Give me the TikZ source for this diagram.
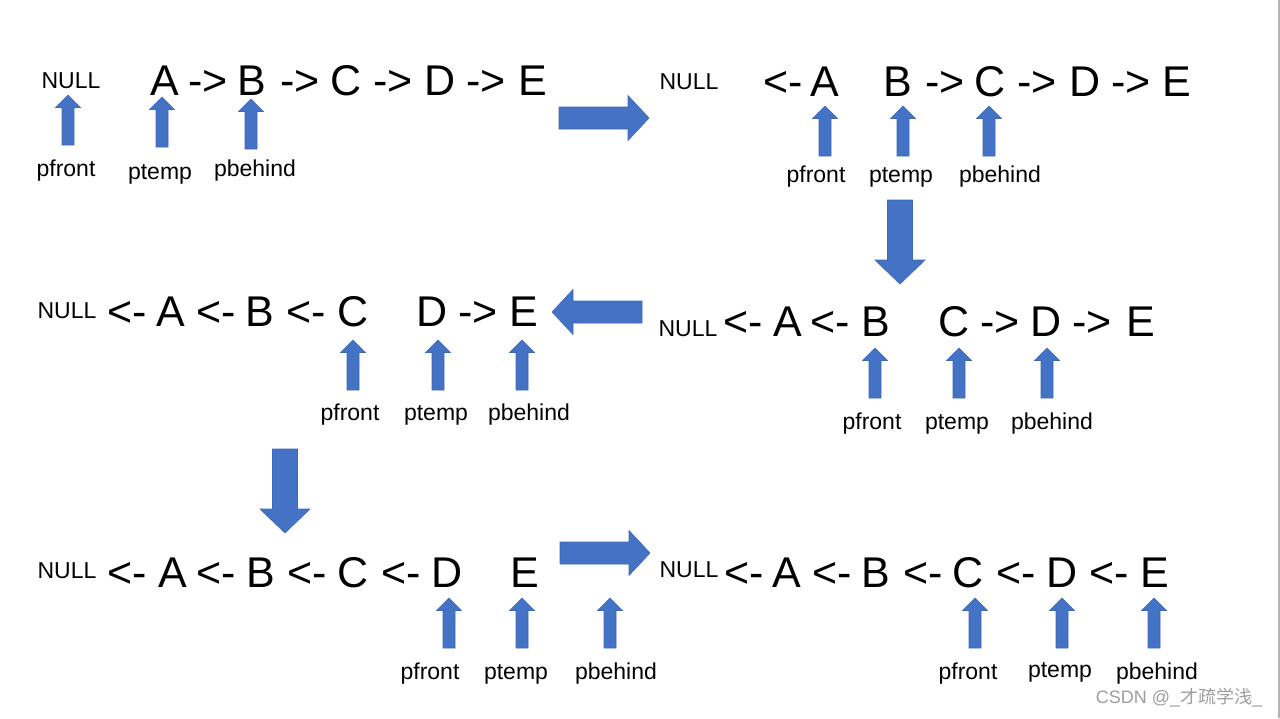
\documentclass[tikz,border=0pt]{standalone}
\usepackage{fontspec}
\setmainfont{Liberation Sans}
\newfontfamily\cjk{Noto Sans CJK SC}

\definecolor{ptrblue}{HTML}{4472C4}
\definecolor{ptredge}{HTML}{3F69B8}

\begin{document}
\begin{tikzpicture}[
    x=1pt, y=-1pt,
    big/.style={font=\fontsize{43}{43}\selectfont, anchor=base, inner sep=0pt},
    null/.style={font=\fontsize{23}{23}\selectfont, anchor=base, inner sep=0pt},
    lbl/.style={font=\fontsize{23}{23}\selectfont, inner sep=0pt},
    blk/.style={fill=ptrblue, draw=ptredge, line width=0.6pt},
    ptr/.pic={\filldraw[blk] (-6,0) -- (-6,-37.5) -- (-12.5,-37.5) -- (0,-50)
        -- (12.5,-37.5) -- (6,-37.5) -- (6,0) -- cycle;},
    stepr/.pic={\filldraw[blk] (0,-11) -- (69,-11) -- (69,-22.5) -- (90,0)
        -- (69,22.5) -- (69,11) -- (0,11) -- cycle;},
    stepd/.pic={\filldraw[blk] (-12.5,0) -- (-12.5,60) -- (-25,60) -- (0,84)
        -- (25,60) -- (12.5,60) -- (12.5,0) -- cycle;}
]
    \useasboundingbox (0,0) rectangle (1280,718);
    \fill[white] (0,0) rectangle (1280,718);

    % Step 1: start of the list
    \node[null] (n1) at (71,88) {NULL};
    \foreach \x/\t [count=\k] in {165/A, 208/->, 252/B, 300/->, 346/C, 393/->, 440/D, 486/->, 533/E}
        \node[big] (a\k) at (\x,95) {\t};
    \foreach \x/\y in {68/145, 162/147, 251/149}
        \pic at (\x,\y) {ptr};
    \foreach \x/\y/\t [count=\k] in {66/171/pfront, 160/174/ptemp, 255/171/pbehind}
        \node[lbl] (la\k) at (\x,\y) {\t};

    % Step 2: A turned round
    \node[null] (n2) at (689,89) {NULL};
    \foreach \x/\t [count=\k] in {783/<-, 825/A, 898/B, 945/->, 990/C, 1037/->, 1085/D, 1131/->, 1177/E}
        \node[big] (b\k) at (\x,96) {\t};
    \foreach \x in {825, 903, 989}
        \pic at (\x,156) {ptr};
    \foreach \x/\t [count=\k] in {816/pfront, 901/ptemp, 1000/pbehind}
        \node[lbl] (lb\k) at (\x,177) {\t};

    % Step 3: B turned round
    \node[null] (n3) at (688,336) {NULL};
    \foreach \x/\t [count=\k] in {743/<-, 788/A, 830/<-, 876/B, 954/C, 1000/->, 1046/D, 1092/->, 1141/E}
        \node[big] (c\k) at (\x,336) {\t};
    \foreach \x in {875, 959, 1047}
        \pic at (\x,398) {ptr};
    \foreach \x/\t [count=\k] in {872/pfront, 957/ptemp, 1052/pbehind}
        \node[lbl] (lc\k) at (\x,424) {\t};

    % Step 4: C turned round
    \node[null] (n4) at (67,318) {NULL};
    \foreach \x/\t [count=\k] in {127/<-, 171/A, 216/<-, 260/B, 306/<-, 353/C, 432/D, 478/->, 524/E}
        \node[big] (d\k) at (\x,326) {\t};
    \foreach \x in {353, 438, 522}
        \pic at (\x,390) {ptr};
    \foreach \x/\t [count=\k] in {350/pfront, 436/ptemp, 529/pbehind}
        \node[lbl] (ld\k) at (\x,415) {\t};

    % Step 5: D turned round
    \node[null] (n5) at (67,578) {NULL};
    \foreach \x/\t [count=\k] in {127/<-, 173/A, 216/<-, 261/B, 307/<-, 353/C, 401/<-, 447/D, 525/E}
        \node[big] (e\k) at (\x,587) {\t};
    \foreach \x in {449, 522, 610}
        \pic at (\x,648) {ptr};
    \foreach \x/\t [count=\k] in {430/pfront, 516/ptemp, 616/pbehind}
        \node[lbl] (le\k) at (\x,674) {\t};

    % Step 6: whole list reversed
    \node[null] (n6) at (689,577) {NULL};
    \foreach \x/\t [count=\k] in {744/<-, 787/A, 832/<-, 876/B, 923/<-, 968/C, 1016/<-, 1062/D, 1109/<-, 1155/E}
        \node[big] (f\k) at (\x,587) {\t};
    \foreach \x in {975, 1062, 1154}
        \pic at (\x,648) {ptr};
    \foreach \x/\y/\t [count=\k] in {968/674/pfront, 1060/672/ptemp, 1157/674/pbehind}
        \node[lbl] (lf\k) at (\x,\y) {\t};

    % arrows between the steps
    \pic at (559,118) {stepr};
    \pic at (900,200) {stepd};
    \pic[rotate=180] at (642,312) {stepr};
    \pic at (285,449) {stepd};
    \pic at (560,553) {stepr};

    % watermark and page edge
    \node[font=\fontsize{18}{18}\selectfont, text=black!38, inner sep=0pt] (mark) at (1179,698) {CSDN @\_{\cjk 才疏学浅}\_};
    \draw[black!30, line width=1.5pt] (1279,0) -- (1279,718);
\end{tikzpicture}
\end{document}
